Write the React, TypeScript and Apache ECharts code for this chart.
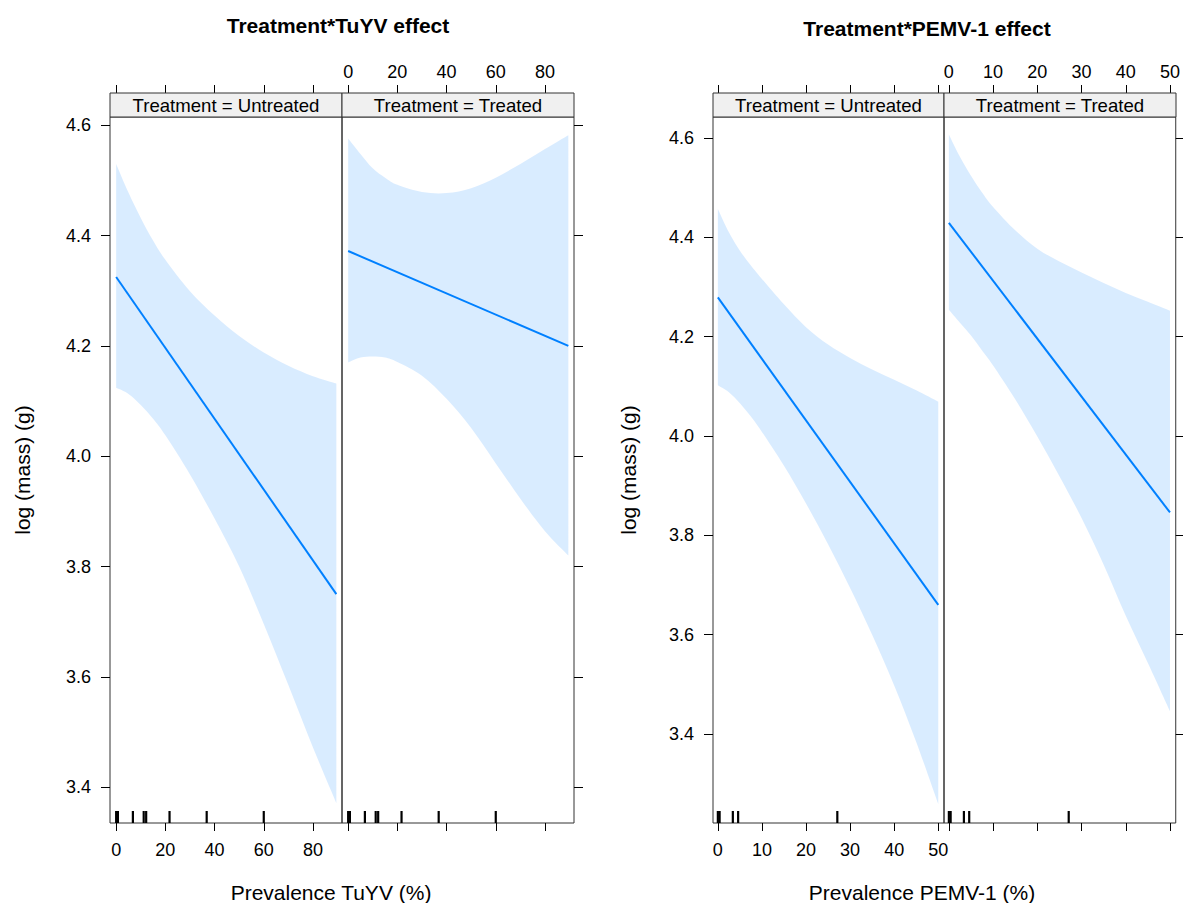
import React, { useEffect, useRef } from "react";
import * as echarts from "echarts";

// ---------- data ----------
const tuyvX = [0, 5, 10, 15, 20, 30, 40, 50, 60, 70, 80, 89.5];
const tuyvUntreatedUpper = [4.53, 4.478, 4.432, 4.391, 4.356, 4.299, 4.255, 4.218, 4.188, 4.164, 4.145, 4.132];
const tuyvUntreatedLower = [4.124, 4.113, 4.093, 4.068, 4.038, 3.967, 3.887, 3.8, 3.696, 3.585, 3.472, 3.371];
const tuyvTreatedUpper = [4.576, 4.548, 4.522, 4.505, 4.492, 4.479, 4.477, 4.486, 4.505, 4.53, 4.557, 4.582];
const tuyvTreatedLower = [4.17, 4.179, 4.181, 4.179, 4.171, 4.146, 4.104, 4.051, 3.987, 3.923, 3.864, 3.82];
const tuyvFitX = [0, 89.5];
const tuyvUntreatedFit = [4.325, 3.75];
const tuyvTreatedFit = [4.372, 4.2];
const tuyvRug = [0, 0.7, 6.8, 11.2, 12.2, 21.7, 36.8, 60];

const pemvX = [0, 2.5, 5, 7.5, 10, 15, 20, 25, 30, 35, 40, 45, 50];
const pemvUntreatedUpper = [4.457, 4.41, 4.373, 4.343, 4.316, 4.265, 4.219, 4.184, 4.157, 4.134, 4.113, 4.092, 4.069];
const pemvUntreatedLower = [4.102, 4.088, 4.066, 4.039, 4.008, 3.94, 3.864, 3.782, 3.694, 3.6, 3.498, 3.384, 3.259];
const pemvTreatedUpper = [4.607, 4.562, 4.524, 4.49, 4.461, 4.414, 4.377, 4.351, 4.329, 4.308, 4.288, 4.27, 4.252];
const pemvTreatedLower = [4.254, 4.228, 4.202, 4.172, 4.142, 4.074, 3.999, 3.919, 3.835, 3.741, 3.638, 3.543, 3.446];
const pemvFitX = [0, 50];
const pemvUntreatedFit = [4.279, 3.66];
const pemvTreatedFit = [4.429, 3.846];
const pemvRug = [0, 0.4, 3.4, 4.6, 27.1];

const tuyvXTicks = [0, 20, 40, 60, 80];
const pemvXTicks = [0, 10, 20, 30, 40, 50];
const yTicks = [3.4, 3.6, 3.8, 4.0, 4.2, 4.4, 4.6];
const stripLabels = ["Treatment = Untreated", "Treatment = Treated"];
const titles = ["Treatment*TuYV effect", "Treatment*PEMV-1 effect"];
const xTitles = ["Prevalence TuYV (%)", "Prevalence PEMV-1 (%)"];
const yTitle = "log (mass) (g)";

// ---------- styling ----------
const FONT = '"Liberation Sans", Arial, Helvetica, sans-serif';
const LINE_COL = "#0080ff";
const BAND_COL = "rgba(0,128,255,0.15)";
const BORDER = "#333";

const PANEL_TOP = 117;
const PANEL_H = 706;
const STRIP_H = 24;

const panels = [
  { left: 110, width: 232 },
  { left: 342, width: 232 },
  { left: 713, width: 231 },
  { left: 944, width: 232 },
];

const TUYV_X = { min: -2.5, max: 91.8 };
const PEMV_X = { min: -1.1, max: 51.3 };
const TUYV_Y = { min: 3.335, max: 4.615 };
const PEMV_Y = { min: 3.221, max: 4.642 };

function xAxisDef(gi: number, range: any, ticks: number[], pos: string, showLabel: boolean) {
  return {
    type: "value",
    gridIndex: gi,
    position: pos,
    offset: pos === "top" ? STRIP_H : 0,
    min: range.min,
    max: range.max,
    axisLine: { show: false, onZero: false },
    splitLine: { show: false },
    axisTick: { show: true, inside: false, length: 8, customValues: ticks, lineStyle: { color: "#000", width: 1 } },
    axisLabel: {
      show: showLabel,
      customValues: ticks,
      margin: pos === "top" ? 12 : 18,
      fontSize: 18,
      fontFamily: FONT,
      color: "#000",
    },
  };
}

function yAxisDef(gi: number, range: any, pos: string, showLabel: boolean) {
  return {
    type: "value",
    gridIndex: gi,
    position: pos,
    min: range.min,
    max: range.max,
    axisLine: { show: false, onZero: false },
    splitLine: { show: false },
    axisTick: { show: true, inside: false, length: 9, customValues: yTicks, lineStyle: { color: "#000", width: 1 } },
    axisLabel: {
      show: showLabel,
      customValues: yTicks,
      formatter: (v: number) => Number(v).toFixed(1),
      margin: 19,
      fontSize: 18,
      fontFamily: FONT,
      color: "#000",
    },
  };
}

// smooth curve (Catmull-Rom -> cubic Bezier) through screen points
function curvePath(pts: number[][], start: string) {
  let d = `${start}${pts[0][0]},${pts[0][1]}`;
  for (let i = 0; i < pts.length - 1; i++) {
    const p0 = pts[i - 1] || pts[i];
    const p1 = pts[i];
    const p2 = pts[i + 1];
    const p3 = pts[i + 2] || p2;
    const c1x = p1[0] + (p2[0] - p0[0]) / 6;
    const c1y = p1[1] + (p2[1] - p0[1]) / 6;
    const c2x = p2[0] - (p3[0] - p1[0]) / 6;
    const c2y = p2[1] - (p3[1] - p1[1]) / 6;
    d += ` C${c1x},${c1y} ${c2x},${c2y} ${p2[0]},${p2[1]}`;
  }
  return d;
}

function bandSeries(xs: number[], lo: number[], hi: number[], xi: number, yi: number) {
  return {
    type: "custom",
    xAxisIndex: xi,
    yAxisIndex: yi,
    silent: true,
    z: 1,
    data: xs.map((x, i) => [x, lo[i], hi[i]]),
    encode: { x: 0, y: [1, 2] },
    renderItem: (params: any, api: any) => {
      if (params.dataIndex !== 0) return { type: "group", children: [] };
      const up: number[][] = xs.map((x, i) => api.coord([x, hi[i]]));
      const dn: number[][] = xs.map((x, i) => api.coord([x, lo[i]])).reverse();
      const d = curvePath(up, "M") + " " + curvePath(dn, "L") + " Z";
      return { type: "path", shape: { pathData: d }, style: { fill: BAND_COL, stroke: null } };
    },
  };
}

function fitSeries(xs: number[], ys: number[], xi: number, yi: number) {
  return {
    type: "line",
    xAxisIndex: xi,
    yAxisIndex: yi,
    symbol: "none",
    silent: true,
    z: 3,
    data: xs.map((x, i) => [x, ys[i]]),
    lineStyle: { color: LINE_COL, width: 2 },
  };
}

function rugSeries(rug: number[], yMin: number, xi: number, yi: number) {
  return {
    type: "custom",
    xAxisIndex: xi,
    yAxisIndex: yi,
    silent: true,
    clip: false,
    z: 4,
    data: rug.map((v) => [v, yMin]),
    encode: { x: 0, y: 1 },
    renderItem: (params: any, api: any) => {
      const p = api.coord([api.value(0), api.value(1)]);
      return {
        type: "line",
        shape: { x1: p[0], y1: p[1], x2: p[0], y2: p[1] - 12 },
        style: { stroke: "#000", lineWidth: 2.2 },
      };
    },
  };
}

export default function App() {
  const ref = useRef<HTMLDivElement>(null);

  useEffect(() => {
    if (!ref.current) return;
    const chart = echarts.init(ref.current, undefined, { renderer: "svg" });

    const grids = panels.map((p) => ({
      left: p.left,
      top: PANEL_TOP,
      width: p.width,
      height: PANEL_H,
      show: true,
      borderColor: BORDER,
      borderWidth: 1,
      backgroundColor: "transparent",
      containLabel: false,
    }));

    const xAxes = [
      xAxisDef(0, TUYV_X, tuyvXTicks, "bottom", true),
      xAxisDef(0, TUYV_X, tuyvXTicks, "top", false),
      xAxisDef(1, TUYV_X, tuyvXTicks, "bottom", false),
      xAxisDef(1, TUYV_X, tuyvXTicks, "top", true),
      xAxisDef(2, PEMV_X, pemvXTicks, "bottom", true),
      xAxisDef(2, PEMV_X, pemvXTicks, "top", false),
      xAxisDef(3, PEMV_X, pemvXTicks, "bottom", false),
      xAxisDef(3, PEMV_X, pemvXTicks, "top", true),
    ];

    const yAxes = [
      yAxisDef(0, TUYV_Y, "left", true),
      yAxisDef(1, TUYV_Y, "right", false),
      yAxisDef(2, PEMV_Y, "left", true),
      yAxisDef(3, PEMV_Y, "right", false),
    ];

    const series: any[] = [
      bandSeries(tuyvX, tuyvUntreatedLower, tuyvUntreatedUpper, 0, 0),
      fitSeries(tuyvFitX, tuyvUntreatedFit, 0, 0),
      rugSeries(tuyvRug, TUYV_Y.min, 0, 0),
      bandSeries(tuyvX, tuyvTreatedLower, tuyvTreatedUpper, 2, 1),
      fitSeries(tuyvFitX, tuyvTreatedFit, 2, 1),
      rugSeries(tuyvRug, TUYV_Y.min, 2, 1),
      bandSeries(pemvX, pemvUntreatedLower, pemvUntreatedUpper, 4, 2),
      fitSeries(pemvFitX, pemvUntreatedFit, 4, 2),
      rugSeries(pemvRug, PEMV_Y.min, 4, 2),
      bandSeries(pemvX, pemvTreatedLower, pemvTreatedUpper, 6, 3),
      fitSeries(pemvFitX, pemvTreatedFit, 6, 3),
      rugSeries(pemvRug, PEMV_Y.min, 6, 3),
    ];

    const graphics: any[] = [];
    panels.forEach((p, i) => {
      graphics.push({
        type: "rect",
        z: 10,
        shape: { x: p.left, y: PANEL_TOP - STRIP_H, width: p.width, height: STRIP_H },
        style: { fill: "#F0F0F0", stroke: BORDER, lineWidth: 1 },
      });
      graphics.push({
        type: "text",
        z: 11,
        x: p.left + p.width / 2,
        y: PANEL_TOP - STRIP_H / 2,
        style: {
          text: stripLabels[i % 2],
          align: "center",
          verticalAlign: "middle",
          font: `18.6px ${FONT}`,
          fill: "#000",
        },
      });
    });
    const titlePos = [
      { x: 338, y: 25 },
      { x: 927, y: 28 },
    ];
    titles.forEach((t, i) => {
      graphics.push({
        type: "text",
        z: 11,
        x: titlePos[i].x,
        y: titlePos[i].y,
        style: { text: t, align: "center", verticalAlign: "middle", font: `bold 21px ${FONT}`, fill: "#000" },
      });
    });
    const xTitlePos = [
      { x: 331, y: 892 },
      { x: 922, y: 892 },
    ];
    xTitles.forEach((t, i) => {
      graphics.push({
        type: "text",
        z: 11,
        x: xTitlePos[i].x,
        y: xTitlePos[i].y,
        style: { text: t, align: "center", verticalAlign: "middle", font: `21px ${FONT}`, fill: "#000" },
      });
    });
    [22, 628].forEach((x) => {
      graphics.push({
        type: "text",
        z: 11,
        x,
        y: PANEL_TOP + PANEL_H / 2,
        rotation: Math.PI / 2,
        style: { text: yTitle, align: "center", verticalAlign: "middle", font: `21px ${FONT}`, fill: "#000" },
      });
    });

    chart.setOption({
      animation: false,
      backgroundColor: "#ffffff",
      textStyle: { fontFamily: FONT },
      grid: grids,
      xAxis: xAxes,
      yAxis: yAxes,
      series,
      graphic: { elements: graphics },
    });

    return () => {
      chart.dispose();
    };
  }, []);

  return (
    <div
      ref={ref}
      style={{ position: "absolute", left: 0, top: 0, width: 1183, height: 903, background: "#fff" }}
    />
  );
}
